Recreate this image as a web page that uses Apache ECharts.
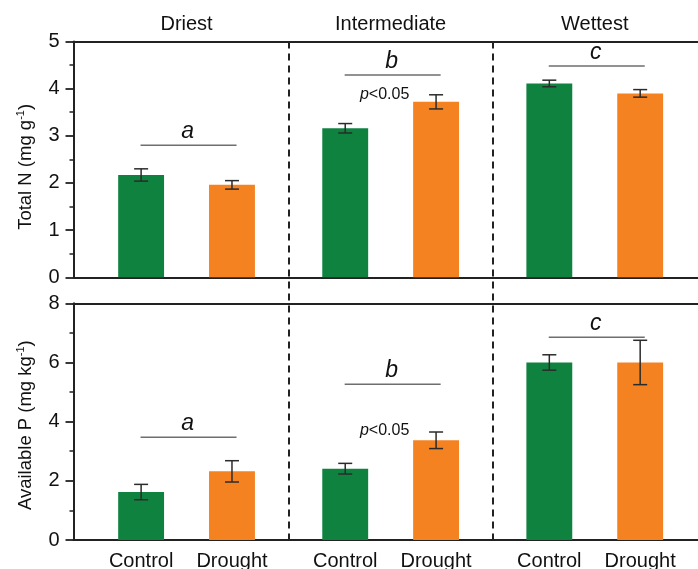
<!DOCTYPE html>
<html>
<head>
<meta charset="utf-8">
<script src="https://cdn.jsdelivr.net/npm/echarts@6/dist/echarts.min.js"></script>
<style>
  html, body { margin: 0; padding: 0; background: #fff; }
  #chart { width: 698px; height: 569px; }
</style>
</head>
<body>
<div id="chart"></div>
<script>
// Sites along the moisture gradient and the two treatments
const sites = ['Driest', 'Intermediate', 'Wettest'];
const treatments = ['Control', 'Drought'];

// Total N (mg g-1): means and standard errors
const nControl = [2.17, 3.16, 4.11];
const nControlErr = [0.13, 0.10, 0.07];
const nDrought = [1.96, 3.72, 3.90];
const nDroughtErr = [0.09, 0.15, 0.08];

// Available P (mg kg-1): means and standard errors
const pControl = [1.62, 2.41, 6.00];
const pControlErr = [0.26, 0.18, 0.26];
const pDrought = [2.32, 3.37, 6.00];
const pDroughtErr = [0.36, 0.28, 0.75];

// Axis ranges / tick steps
const nAxis = { min: 0, max: 5, step: 1 };
const pAxis = { min: 0, max: 8, step: 2 };

// Group letters (site differences) and the height of their bracket lines
const groupLetters = ['a', 'b', 'c'];
const nLetterLevel = [2.80, 4.29, 4.48];
const pLetterLevel = [3.47, 5.26, 6.85];

// Treatment effect note in the Intermediate site
const noteSite = 1;
const nNoteLevel = 3.88;
const pNoteLevel = 3.69;

// ---- layout / style ----
const FONT = 'Liberation Sans, Arial, sans-serif';
const GREEN = '#108240';
const ORANGE = '#f58220';
const INK = '#222';
const LABEL_SIZE = 20;
const CAT_GAP = 0.33;   // barCategoryGap as fraction
const BAR_GAP = 0.98;   // barGap as fraction of bar width

const topPanel = { top: 41.5, height: 235.8 };
const botPanel = { top: 303.3, height: 236.7 };
const frameLR = { left: 73.5, right: -6 };
const barsLR = { left: 84.5, right: 1.2 };

function barOffset(api, sign) {
  const band = api.size([1, 0])[0];
  const w = band * (1 - CAT_GAP) / (2 + BAR_GAP);
  return sign * w * (1 + BAR_GAP) / 2;
}

function errorBarItem(sign) {
  return function (params, api) {
    const i = api.value(0), v = api.value(1), e = api.value(2);
    const x = api.coord([i, v])[0] + barOffset(api, sign);
    const yTop = api.coord([i, v + e])[1];
    const yBot = api.coord([i, v - e])[1];
    const cap = 7;
    const st = { stroke: '#2b2b2b', lineWidth: 1.5 };
    return {
      type: 'group',
      children: [
        { type: 'line', shape: { x1: x, y1: yTop, x2: x, y2: yBot }, style: st },
        { type: 'line', shape: { x1: x - cap, y1: yTop, x2: x + cap, y2: yTop }, style: st },
        { type: 'line', shape: { x1: x - cap, y1: yBot, x2: x + cap, y2: yBot }, style: st }
      ]
    };
  };
}

function letterItem(params, api) {
  const i = api.value(0), lvl = api.value(1);
  const c = api.coord([i, lvl]);
  return {
    type: 'group',
    children: [
      { type: 'line', shape: { x1: c[0] - 46, y1: c[1], x2: c[0] + 50, y2: c[1] },
        style: { stroke: '#6e6e6e', lineWidth: 1.5 } },
      { type: 'text', x: c[0] + 1, y: c[1] - 2,
        style: { text: groupLetters[i], textAlign: 'center', textVerticalAlign: 'bottom',
                 font: 'italic 23px ' + FONT, fill: '#111' } }
    ]
  };
}

function noteItem(params, api) {
  const c = api.coord([api.value(0), api.value(1)]);
  return {
    type: 'text', x: c[0] - 6, y: c[1],
    style: {
      text: '{it|p}<0.05', textAlign: 'center', textVerticalAlign: 'middle',
      fontFamily: FONT, fontSize: 16, fill: '#111',
      rich: { it: { fontStyle: 'italic', fontSize: 16, fontFamily: FONT } }
    }
  };
}

const tuple = (vals, errs) => vals.map((v, i) => [i, v, errs[i]]);

function frameX(grid, position) {
  return {
    gridIndex: grid, type: 'value', min: 0, max: 1, position: position,
    axisLine: { show: true, onZero: false, lineStyle: { color: INK, width: 2 } },
    axisTick: { show: false }, axisLabel: { show: false }, splitLine: { show: false }
  };
}

function frameY(grid, range, nameRich, namePad) {
  return {
    gridIndex: grid, type: 'value', min: range.min, max: range.max, interval: range.step,
    axisLine: { show: true, onZero: false, lineStyle: { color: INK, width: 2 } },
    axisTick: { show: true, length: 8, lineStyle: { color: INK, width: 1.8 } },
    minorTick: { show: true, splitNumber: 2, length: 4, lineStyle: { color: INK, width: 1.5 } },
    axisLabel: { fontSize: LABEL_SIZE, color: '#111', fontFamily: FONT, margin: 14 },
    splitLine: { show: false },
    name: nameRich, nameLocation: 'middle', nameGap: 37,
    nameTextStyle: {
      padding: [0, namePad, 0, 0],
      rich: {
        n: { fontSize: 18.5, fontFamily: FONT, color: '#111', lineHeight: 21 },
        s: { fontSize: 11, fontFamily: FONT, color: '#111', verticalAlign: 'top', lineHeight: 21 }
      }
    }
  };
}

const chart = echarts.init(document.getElementById('chart'), null, { renderer: 'canvas' });

chart.setOption({
  animation: false,
  backgroundColor: '#fff',
  grid: [
    { left: frameLR.left, right: frameLR.right, top: topPanel.top, height: topPanel.height },
    { left: frameLR.left, right: frameLR.right, top: botPanel.top, height: botPanel.height },
    { left: barsLR.left, right: barsLR.right, top: topPanel.top, height: topPanel.height },
    { left: barsLR.left, right: barsLR.right, top: botPanel.top, height: botPanel.height },
    { left: barsLR.left, right: barsLR.right, top: topPanel.top, bottom: 569 - (botPanel.top + botPanel.height) }
  ],
  xAxis: [
    frameX(0, 'bottom'), frameX(0, 'top'), frameX(1, 'bottom'), frameX(1, 'top'),
    { gridIndex: 2, type: 'category', data: sites, position: 'top',
      axisLine: { show: false }, axisTick: { show: false },
      axisLabel: { fontSize: LABEL_SIZE, color: '#111', fontFamily: FONT, margin: 7 } },
    { gridIndex: 3, type: 'category', data: sites, show: false },
    { gridIndex: 4, type: 'category', data: sites,
      axisLine: { show: false }, axisTick: { show: false }, axisLabel: { show: false },
      splitLine: { show: true, showMinLine: false, showMaxLine: false,
                   lineStyle: { color: INK, width: 2, type: [7, 5] } } }
  ],
  yAxis: [
    frameY(0, nAxis, '{n|Total N (mg g}{s|-1}{n|)}', 15),
    frameY(1, pAxis, '{n|Available P (mg kg}{s|-1}{n|)}', 7),
    { gridIndex: 2, type: 'value', min: nAxis.min, max: nAxis.max, show: false },
    { gridIndex: 3, type: 'value', min: pAxis.min, max: pAxis.max, show: false },
    { gridIndex: 4, type: 'value', min: 0, max: 1, show: false }
  ],
  series: [
    // Total N bars
    { type: 'bar', name: treatments[0], xAxisIndex: 4, yAxisIndex: 2, data: nControl,
      itemStyle: { color: GREEN }, barGap: (BAR_GAP * 100) + '%', barCategoryGap: (CAT_GAP * 100) + '%' },
    { type: 'bar', name: treatments[1], xAxisIndex: 4, yAxisIndex: 2, data: nDrought,
      itemStyle: { color: ORANGE } },
    // Available P bars, treatment names printed under each bar
    { type: 'bar', name: treatments[0], xAxisIndex: 5, yAxisIndex: 3, data: pControl,
      itemStyle: { color: GREEN }, barGap: (BAR_GAP * 100) + '%', barCategoryGap: (CAT_GAP * 100) + '%',
      label: { show: true, position: 'bottom', distance: 11, formatter: '{a}',
               fontSize: LABEL_SIZE, color: '#111', fontFamily: FONT } },
    { type: 'bar', name: treatments[1], xAxisIndex: 5, yAxisIndex: 3, data: pDrought,
      itemStyle: { color: ORANGE },
      label: { show: true, position: 'bottom', distance: 11, formatter: '{a}',
               fontSize: LABEL_SIZE, color: '#111', fontFamily: FONT } },
    // Error bars
    { type: 'custom', xAxisIndex: 4, yAxisIndex: 2, data: tuple(nControl, nControlErr),
      renderItem: errorBarItem(-1), encode: { x: 0, y: 1 }, z: 5 },
    { type: 'custom', xAxisIndex: 4, yAxisIndex: 2, data: tuple(nDrought, nDroughtErr),
      renderItem: errorBarItem(1), encode: { x: 0, y: 1 }, z: 5 },
    { type: 'custom', xAxisIndex: 5, yAxisIndex: 3, data: tuple(pControl, pControlErr),
      renderItem: errorBarItem(-1), encode: { x: 0, y: 1 }, z: 5 },
    { type: 'custom', xAxisIndex: 5, yAxisIndex: 3, data: tuple(pDrought, pDroughtErr),
      renderItem: errorBarItem(1), encode: { x: 0, y: 1 }, z: 5 },
    // Site letters
    { type: 'custom', xAxisIndex: 4, yAxisIndex: 2, data: nLetterLevel.map((v, i) => [i, v]),
      renderItem: letterItem, encode: { x: 0, y: 1 }, z: 5 },
    { type: 'custom', xAxisIndex: 5, yAxisIndex: 3, data: pLetterLevel.map((v, i) => [i, v]),
      renderItem: letterItem, encode: { x: 0, y: 1 }, z: 5 },
    // Treatment effect notes
    { type: 'custom', xAxisIndex: 4, yAxisIndex: 2, data: [[noteSite, nNoteLevel]],
      renderItem: noteItem, encode: { x: 0, y: 1 }, z: 5 },
    { type: 'custom', xAxisIndex: 5, yAxisIndex: 3, data: [[noteSite, pNoteLevel]],
      renderItem: noteItem, encode: { x: 0, y: 1 }, z: 5 }
  ]
});
</script>
</body>
</html>
